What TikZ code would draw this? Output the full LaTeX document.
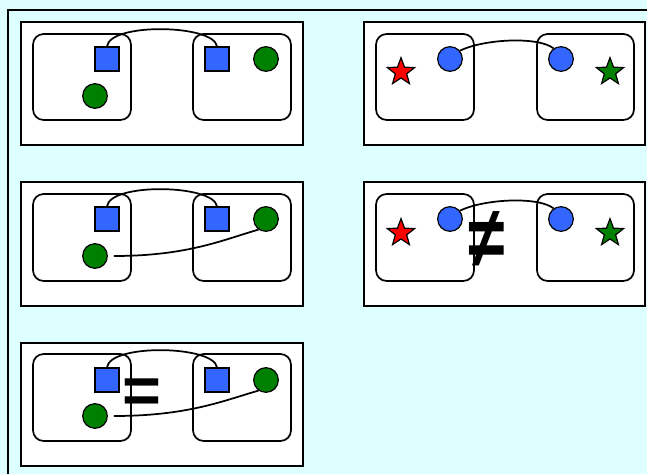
\documentclass[tikz,border=0pt]{standalone}
\usepackage{graphicx}
\usepackage{fontspec}
\setmainfont{Liberation Sans}
\usetikzlibrary{shapes.geometric}
\definecolor{bgcyan}{HTML}{DDFFFF}
\definecolor{sqblue}{HTML}{3366FF}
\definecolor{dkgreen}{HTML}{008000}
\tikzset{
  sq/.style={draw, fill=sqblue, minimum size=18pt, inner sep=0pt, line width=0.9pt},
  dot/.style={draw, circle, minimum size=18.5pt, inner sep=0pt, line width=0.9pt},
  pnt/.style={draw, star, star points=5, star point ratio=2.4, minimum size=21.5pt, inner sep=0pt, line width=0.9pt},
  frame/.style={draw, fill=white, line width=1.4pt},
  box/.style={draw, rounded corners=8pt, line width=1.3pt},
  link/.style={line width=1.3pt},
  sign/.style={font=\fontsize{50}{50}\selectfont\bfseries, inner sep=0pt}
}
\begin{document}
\begin{tikzpicture}[x=0.75pt, y=-0.75pt]
\fill[bgcyan] (0,0) rectangle (647,474);
\useasboundingbox (0,0) rectangle (647,474);
\draw[line width=1.4pt] (8,480) -- (8,10) -- (652,10);
% panel 1
\draw[frame] (21,22) rectangle (303,145);
\draw[box] (33,34) rectangle (131,120);
\draw[box] (193,34) rectangle (291,120);
\node[sq] (p1s1) at (107,59) {};
\node[dot, fill=dkgreen] (p1g1) at (95,96) {};
\node[sq] (p1s2) at (217,59) {};
\node[dot, fill=dkgreen] (p1g2) at (266,59) {};
\draw[link] (p1s1.north) .. controls +(3,-24) and +(-3,-22) .. (p1s2.north);
% panel 2
\draw[frame] (364,22) rectangle (645,145);
\draw[box] (376,34) rectangle (474,120);
\draw[box] (537,34) rectangle (634,120);
\node[pnt, fill=red] (p2r) at (401,72) {};
\node[dot, fill=sqblue] (p2b1) at (450,59) {};
\node[dot, fill=sqblue] (p2b2) at (561,59) {};
\node[pnt, fill=dkgreen] (p2g) at (610,72) {};
\draw[link] (p2b1.40) .. controls +(25,-12) and +(-15,-12) .. (p2b2.125);
% panel 3
\draw[frame] (21,182) rectangle (303,306);
\draw[box] (33,194) rectangle (131,281);
\draw[box] (193,194) rectangle (291,281);
\node[sq] (p3s1) at (107,219) {};
\node[dot, fill=dkgreen] (p3g1) at (95,256) {};
\node[sq] (p3s2) at (217,219) {};
\node[dot, fill=dkgreen] (p3g2) at (266,219) {};
\draw[link] (p3s1.north) .. controls +(3,-24) and +(-3,-22) .. (p3s2.north);
\draw[link, shorten <=4.5pt] (p3g1.east) .. controls +(80,0) and +(-35,10) .. (p3g2.235);
% panel 4
\draw[frame] (364,182) rectangle (645,306);
\draw[box] (376,194) rectangle (474,281);
\draw[box] (537,194) rectangle (634,281);
\node[pnt, fill=red] (p4r) at (401,233) {};
\node[dot, fill=sqblue] (p4b1) at (450,219) {};
\node[dot, fill=sqblue] (p4b2) at (561,219) {};
\node[pnt, fill=dkgreen] (p4g) at (610,233) {};
\draw[link] (p4b1.40) .. controls +(25,-12) and +(-15,-12) .. (p4b2.125);
\node[sign] (neq) at (487,240) {\scalebox{1}[1.3]{≠}};
% panel 5
\draw[frame] (21,343) rectangle (303,466);
\draw[box] (33,354) rectangle (131,441);
\draw[box] (193,354) rectangle (291,441);
\node[sq] (p5s1) at (107,380) {};
\node[dot, fill=dkgreen] (p5g1) at (95,416) {};
\node[sq] (p5s2) at (217,380) {};
\node[dot, fill=dkgreen] (p5g2) at (266,380) {};
\draw[link] (p5s1.north) .. controls +(3,-24) and +(-3,-22) .. (p5s2.north);
\draw[link, shorten <=4.5pt] (p5g1.east) .. controls +(80,0) and +(-35,10) .. (p5g2.235);
\node[sign] (eq) at (142,396) {=};
\end{tikzpicture}
\end{document}
